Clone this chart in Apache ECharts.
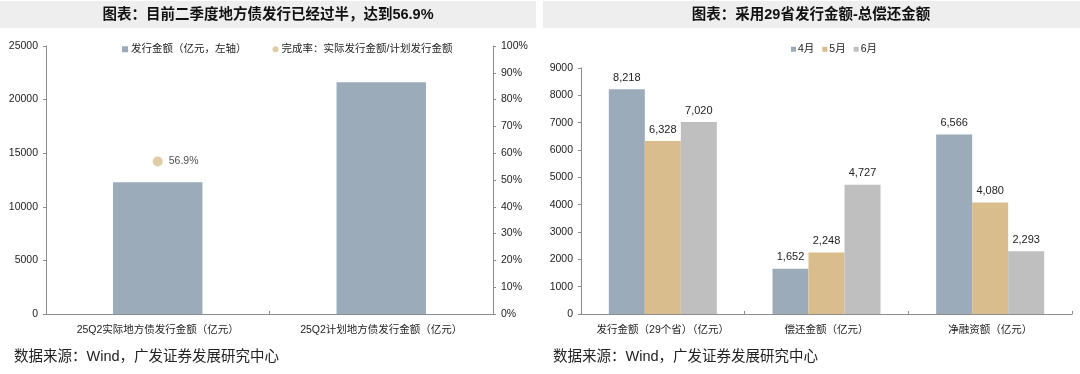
<!DOCTYPE html>
<html><head><meta charset="utf-8">
<script src="https://cdn.jsdelivr.net/npm/echarts@6/dist/echarts.min.js"></script>
<style>html,body{margin:0;padding:0;background:#fff}#c{width:1080px;height:374px}</style>
</head><body><div id="c"></div>
<script>
const leftTitle = '图表：目前二季度地方债发行已经过半，达到56.9%';
const rightTitle = '图表：采用29省发行金额-总偿还金额';
const sourceText = '数据来源：Wind，广发证券发展研究中心';
const leftLegend = ['发行金额（亿元，左轴）', '完成率：实际发行金额/计划发行金额'];
const leftCategories = ['25Q2实际地方债发行金额（亿元）', '25Q2计划地方债发行金额（亿元）'];
const leftAmounts = [12300, 21620];
const leftRates = [56.9, null];
const rightCategories = ['发行金额（29个省）（亿元）', '偿还金额（亿元）', '净融资额（亿元）'];
const months = ['4月', '5月', '6月'];
const aprilValues = [8218, 1652, 6566];
const mayValues = [6328, 2248, 4080];
const juneValues = [7020, 4727, 2293];

const FONT = '"Liberation Sans", "Noto Sans CJK SC", sans-serif';
const C_BLUE = '#9babba', C_TAN = '#d9bd8c', C_GRAY = '#bfbfbf';
const AXIS_C = '#8c8c8c', TXT = '#222';

const chart = echarts.init(document.getElementById('c'), null, {renderer: 'canvas'});
const fmt = v => v.toLocaleString('en-US');
const yBase = {
  type: 'value', splitLine: {show: false},
  axisLine: {show: true, lineStyle: {color: AXIS_C, width: 1}},
  axisTick: {show: true, inside: false, length: 3, lineStyle: {color: AXIS_C}},
  axisLabel: {color: TXT, fontSize: 10.5, fontFamily: FONT, margin: 8, formatter: v => String(v)}
};
const xBase = {
  type: 'category',
  axisLine: {show: true, lineStyle: {color: AXIS_C, width: 1}},
  axisTick: {show: true, inside: true, length: 3, alignWithLabel: false, lineStyle: {color: AXIS_C}},
  axisLabel: {color: TXT, fontSize: 10.5, fontFamily: FONT, margin: 11, interval: 0}
};
const months3 = [aprilValues, mayValues, juneValues];
const colors3 = [C_BLUE, C_TAN, C_GRAY];

chart.setOption({
  animation: false,
  textStyle: {fontFamily: FONT},
  grid: [
    {left: 46, right: 1080 - 493, top: 46, bottom: 60},
    {left: 581, right: 8, top: 68, bottom: 60}
  ],
  legend: [
    {data: [{name: leftLegend[0], icon: 'rect'}, {name: leftLegend[1], icon: 'circle'}],
     left: 117, top: 39, itemWidth: 6, itemHeight: 6, itemGap: 26,
     textStyle: {color: TXT, fontSize: 10.5, fontFamily: FONT, padding: [0, 0, 0, -2]}},
    {data: months.map(m => ({name: m, icon: 'rect'})),
     left: 786, top: 39, itemWidth: 5, itemHeight: 5, itemGap: 8,
     textStyle: {color: TXT, fontSize: 10.5, fontFamily: FONT, padding: [0, 0, 0, -3]}}
  ],
  xAxis: [
    Object.assign({}, xBase, {gridIndex: 0, data: leftCategories}),
    Object.assign({}, xBase, {gridIndex: 1, data: rightCategories})
  ],
  yAxis: [
    Object.assign({}, yBase, {gridIndex: 0, min: 0, max: 25000, interval: 5000}),
    Object.assign({}, yBase, {gridIndex: 0, position: 'right', min: 0, max: 100, interval: 10,
      axisLabel: Object.assign({}, yBase.axisLabel, {formatter: '{value}%'})}),
    Object.assign({}, yBase, {gridIndex: 1, min: 0, max: 9000, interval: 1000})
  ],
  series: [
    {name: leftLegend[0], type: 'bar', xAxisIndex: 0, yAxisIndex: 0, data: leftAmounts,
     barWidth: '40%', itemStyle: {color: C_BLUE}},
    {name: leftLegend[1], type: 'scatter', xAxisIndex: 0, yAxisIndex: 1, data: leftRates,
     symbolSize: 10, itemStyle: {color: '#d8bf90'},
     label: {show: true, position: 'right', distance: 6, color: TXT, fontSize: 10.5, fontFamily: FONT,
       formatter: p => p.value + '%'}}
  ].concat(months.map((m, i) => ({
    name: m, type: 'bar', xAxisIndex: 1, yAxisIndex: 2, data: months3[i],
    barGap: '0%', barCategoryGap: '34%', itemStyle: {color: colors3[i]},
    label: {show: true, position: 'top', distance: 6, color: TXT, fontSize: 11, fontFamily: FONT,
      formatter: p => fmt(p.value)}
  }))),
  graphic: [
    {type: 'rect', shape: {x: 0, y: 1, width: 536, height: 27}, style: {fill: '#eeeeee'}, z: -1},
    {type: 'rect', shape: {x: 543, y: 1, width: 537, height: 27}, style: {fill: '#eeeeee'}, z: -1},
    {type: 'text', x: 268, y: 15, style: {text: leftTitle, fill: '#111', font: 'bold 14.5px ' + FONT,
      textAlign: 'center', textVerticalAlign: 'middle'}},
    {type: 'text', x: 811, y: 15, style: {text: rightTitle, fill: '#111', font: 'bold 14.5px ' + FONT,
      textAlign: 'center', textVerticalAlign: 'middle'}},
    {type: 'text', x: 14, y: 357, style: {text: sourceText, fill: TXT, font: '14.5px ' + FONT,
      textAlign: 'left', textVerticalAlign: 'middle'}},
    {type: 'text', x: 553, y: 357, style: {text: sourceText, fill: TXT, font: '14.5px ' + FONT,
      textAlign: 'left', textVerticalAlign: 'middle'}}
  ]
});
</script></body></html>
